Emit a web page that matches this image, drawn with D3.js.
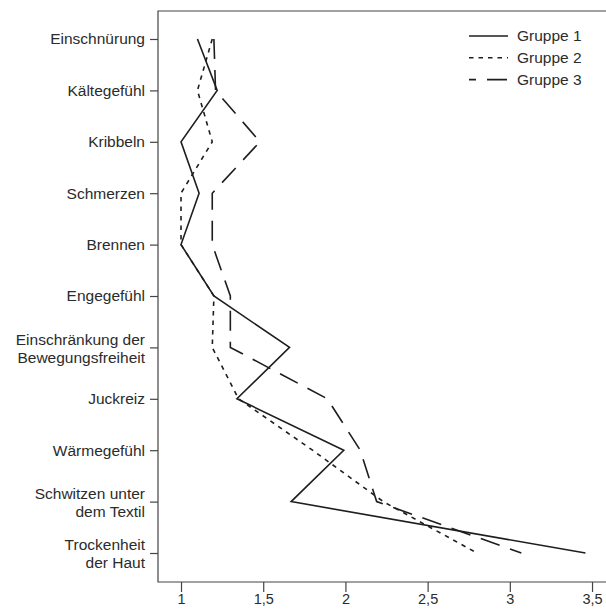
<!DOCTYPE html>
<html>
<head>
<meta charset="utf-8">
<script src="https://cdn.jsdelivr.net/npm/d3@7"></script>
<style>
  body { margin: 0; background: #fff; }
  text { font-family: "Liberation Sans", Arial, sans-serif; fill: #2b2b2b; }
</style>
</head>
<body>
<div id="chart_area"></div>
<script>
// categories (top to bottom) and mean values per group
const categories = [
  'Einschnürung', 'Kältegefühl', 'Kribbeln', 'Schmerzen', 'Brennen', 'Engegefühl',
  'Einschränkung der|Bewegungsfreiheit', 'Juckreiz', 'Wärmegefühl',
  'Schwitzen unter|dem Textil', 'Trockenheit|der Haut'
];
const gruppe1 = [1.10, 1.22, 1.00, 1.11, 1.00, 1.20, 1.66, 1.34, 1.99, 1.67, 3.46];
const gruppe2 = [1.19, 1.10, 1.19, 1.00, 1.00, 1.20, 1.19, 1.35, 1.80, 2.23, 2.80];
const gruppe3 = [1.20, 1.21, 1.48, 1.19, 1.19, 1.30, 1.30, 1.89, 2.09, 2.19, 3.07];
const seriesNames = ['Gruppe 1', 'Gruppe 2', 'Gruppe 3'];
const xTicks = [1, 1.5, 2, 2.5, 3, 3.5];

const series = [
  { name: seriesNames[0], values: gruppe1, dash: null },
  { name: seriesNames[1], values: gruppe2, dash: '4.5,5' },
  { name: seriesNames[2], values: gruppe3, dash: '20,11' }
];

const svgWidth = 606;
const svgHeight = 610;
const margin = { top: 11, right: 0, bottom: 28, left: 158 };
const width = svgWidth - margin.left - margin.right;
const height = svgHeight - margin.top - margin.bottom;

const de = d3.formatLocale({ decimal: ',', thousands: '.', grouping: [3], currency: ['', ' €'] });

const x = d3.scaleLinear().domain([0.86, 3.585]).range([0, width]);
const y = d3.scalePoint().domain(categories).range([28, height - 29]);

const svg = d3.select('#chart_area')
  .append('svg')
  .attr('width', svgWidth)
  .attr('height', svgHeight)
  .append('g')
  .attr('transform', 'translate(' + margin.left + ',' + margin.top + ')');

// frame (top, left, bottom)
svg.append('path')
  .attr('d', `M${width + 2},0H0V${height}H${width + 2}`)
  .attr('fill', 'none')
  .attr('stroke', '#444')
  .attr('stroke-width', 1.2);

// y axis
const yAxis = svg.append('g')
  .call(d3.axisLeft(y).tickSize(8).tickPadding(5).tickFormat(''));
yAxis.select('.domain').remove();
yAxis.selectAll('line').attr('stroke', '#444').attr('stroke-width', 1.2);
yAxis.selectAll('.tick').each(function (d) {
  const lines = d.split('|');
  const t = d3.select(this).select('text')
    .attr('font-size', '15.5px')
    .attr('font-family', null)
    .attr('fill', null)
    .attr('dy', null);
  lines.forEach((line, i) => {
    t.append('tspan')
      .attr('x', -13)
      .attr('dy', i === 0 ? (lines.length > 1 ? '-0.2em' : '0.32em') : '1.15em')
      .text(line);
  });
});

// x axis
const xAxis = svg.append('g')
  .attr('transform', 'translate(0,' + height + ')')
  .call(d3.axisBottom(x).tickValues(xTicks).tickSize(10).tickPadding(2).tickFormat(de.format('~g')));
xAxis.select('.domain').remove();
xAxis.selectAll('line').attr('stroke', '#444').attr('stroke-width', 1.2);
xAxis.selectAll('text').attr('font-size', '14.5px').attr('font-family', null).attr('fill', null);

// lines
const line = d3.line()
  .x((d) => x(d.v))
  .y((d) => y(d.c));

series.forEach((s) => {
  svg.append('path')
    .datum(s.values.map((v, i) => ({ v: v, c: categories[i] })))
    .attr('d', line)
    .attr('fill', 'none')
    .attr('stroke', '#1e1e1e')
    .attr('stroke-width', 1.6)
    .attr('stroke-dasharray', s.dash);
});

// legend
const legend = svg.append('g').attr('transform', 'translate(' + (469 - margin.left) + ',' + (36 - margin.top) + ')');
series.forEach((s, i) => {
  const row = legend.append('g').attr('transform', 'translate(0,' + i * 21.8 + ')');
  row.append('line')
    .attr('x1', 0).attr('x2', 39)
    .attr('stroke', '#1e1e1e')
    .attr('stroke-width', 1.6)
    .attr('stroke-dasharray', s.dash)
    .attr('stroke-dashoffset', i === 2 ? 13 : 0);
  row.append('text')
    .attr('x', 48)
    .attr('dy', '0.35em')
    .attr('font-size', '15.5px')
    .text(s.name);
});
</script>
</body>
</html>
